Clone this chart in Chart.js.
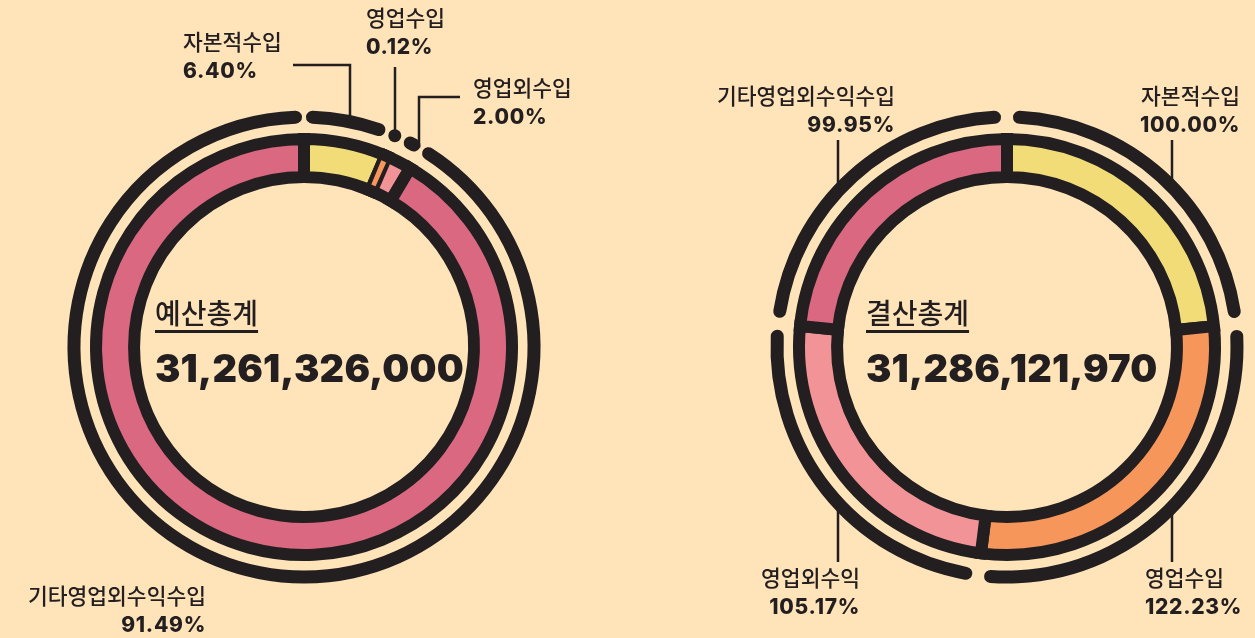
<!DOCTYPE html>
<html lang="ko">
<head>
<meta charset="utf-8">
<title>예산총계 · 결산총계</title>
<script src="https://cdn.jsdelivr.net/npm/chart.js@4"></script>
<style>
  html, body { margin: 0; padding: 0; background: #FFE3B9; }
  #page { position: relative; width: 1255px; height: 638px; overflow: hidden; }
  #page canvas { position: absolute; left: 0; top: 0; }
  .txt { position: absolute; line-height: 1; white-space: nowrap; color: #231F20; transform: translateY(-50%); }
  .txt.end { transform: translate(-100%, -50%); }
  .name { font-family: "Noto Sans CJK KR", sans-serif; font-size: 21.5px; font-weight: 500; }
  .pct { font-family: Inter, sans-serif; font-size: 21px; font-weight: 800; letter-spacing: 0.7px; }
  .title { font-family: "Noto Sans CJK KR", sans-serif; font-size: 28px; font-weight: 500;
           text-decoration: underline; text-decoration-thickness: 2.5px; text-underline-offset: 6px; }
  .total { font-family: Inter, sans-serif; font-size: 38px; font-weight: 900; letter-spacing: 0.2px; }
</style>
</head>
<body>
<div id="page">
  <canvas id="budgetChart" width="1255" height="638"></canvas>
  <canvas id="settleChart" width="1255" height="638"></canvas>
</div>
<script>
// 예산: 수입 구성비 (%)
const budgetNames = ['자본적수입', '영업수입', '영업외수입', '기타영업외수익수입'];
const budgetShares = [6.40, 0.12, 2.00, 91.49];
const budgetTotal = 31261326000;

// 결산: 항목별 집행률 (%)
const settleNames = ['자본적수입', '영업수입', '영업외수익', '기타영업외수익수입'];
const settleRates = [100.00, 122.23, 105.17, 99.95];
const settleTotal = 31286121970;

const sliceColors = ['#F2DC78', '#F7965A', '#F29497', '#DA6880'];
const ink = '#231F20';

// label placement: text anchor, and the leader path that drops onto the outer ring
const budgetLabels = [
  { x: 183, y: 41, align: 'start', leader: [[293, 65], [350, 65]] },
  { x: 366, y: 17, align: 'start', leader: [[395, 67]] },
  { x: 473, y: 87, align: 'start', leader: [[460, 97], [419, 97]] },
  { x: 206, y: 595, align: 'end', leader: null }
];
const settleLabels = [
  { x: 1240, y: 95, align: 'end', leader: [[1172, 140]] },
  { x: 1145, y: 577, align: 'start', leader: [[1172, 562]] },
  { x: 860, y: 577, align: 'end', leader: [[838, 562]] },
  { x: 895, y: 95, align: 'end', leader: [[838, 140]] }
];

const page = document.getElementById('page');

// outer segmented ring, hairline slices and leader lines
const outerRing = {
  id: 'outerRing',
  afterDatasetsDraw(chart, args, opts) {
    const arcs = chart.getDatasetMeta(0).data;
    const ctx = chart.ctx;
    const { x: cx, y: cy, innerRadius, outerRadius } = arcs[0];
    const half = arcs[0].options.borderWidth / 2;
    const R = opts.radius, cap = opts.width / 2, gap = opts.gap;
    const top = -Math.PI / 2;
    const n = arcs.length;

    ctx.save();

    // slices thinner than the borders still get a visible stripe
    const mid = (innerRadius + outerRadius) / 2;
    arcs.forEach(a => {
      if ((a.endAngle - a.startAngle) * mid >= opts.minSlice) return;
      const m = (a.startAngle + a.endAngle) / 2, h = opts.minSlice / 2 / mid;
      ctx.beginPath();
      ctx.arc(cx, cy, outerRadius - half, m - h, m + h);
      ctx.arc(cx, cy, innerRadius + half, m + h, m - h, true);
      ctx.closePath();
      ctx.fillStyle = a.options.backgroundColor;
      ctx.fill();
    });

    // spans along the outer circle, in px measured from the top
    const marks = arcs.map(a => {
      const s = (a.startAngle - top) * R, e = (a.endAngle - top) * R;
      if (e - s < 2 * cap + gap) {
        const m = (s + e) / 2;
        return { s: m - cap, e: m + cap, dot: true };
      }
      return { s: s + gap / 2, e: e - gap / 2, dot: false };
    });
    marks.forEach((mk, i) => {
      if (!mk.dot) return;
      const prev = marks[(i + n - 1) % n], next = marks[(i + 1) % n];
      prev.e = Math.min(prev.e, mk.s - gap);
      next.s = Math.max(next.s, mk.e + gap);
    });

    ctx.strokeStyle = ink;
    ctx.fillStyle = ink;
    ctx.lineWidth = opts.width;
    ctx.lineCap = 'round';
    marks.forEach(mk => {
      ctx.beginPath();
      if (mk.dot || mk.e - mk.s <= 2 * cap) {
        const ang = (mk.s + mk.e) / 2 / R + top;
        ctx.arc(cx + R * Math.cos(ang), cy + R * Math.sin(ang), cap, 0, Math.PI * 2);
        ctx.fill();
      } else {
        ctx.arc(cx, cy, R, (mk.s + cap) / R + top, (mk.e - cap) / R + top);
        ctx.stroke();
      }
    });

    // leader lines end where they meet the outer ring
    ctx.lineWidth = 2.5;
    ctx.lineCap = 'butt';
    opts.labels.forEach(l => {
      if (!l.leader) return;
      const pts = l.leader;
      const [lx, ly] = pts[pts.length - 1];
      const dy = Math.sqrt(R * R - (lx - cx) * (lx - cx));
      ctx.beginPath();
      ctx.moveTo(pts[0][0], pts[0][1]);
      pts.slice(1).forEach(p => ctx.lineTo(p[0], p[1]));
      ctx.lineTo(lx, ly < cy ? cy - dy : cy + dy);
      ctx.stroke();
    });

    ctx.restore();
  }
};

function addText(cls, str, x, y, align) {
  const el = document.createElement('div');
  el.className = 'txt ' + cls + (align === 'end' ? ' end' : '');
  el.textContent = str;
  el.style.left = x + 'px';
  el.style.top = y + 'px';
  page.appendChild(el);
}

function makeRing(id, names, values, labels, padding, gap) {
  return new Chart(document.getElementById(id), {
    type: 'doughnut',
    data: {
      labels: names,
      datasets: [{
        data: values,
        backgroundColor: sliceColors,
        borderColor: ink,
        borderWidth: 12,
        borderJoinStyle: 'miter'
      }]
    },
    options: {
      responsive: false,
      animation: false,
      events: [],
      radius: 208,
      cutout: '81.7%',
      layout: { padding },
      plugins: {
        legend: { display: false },
        tooltip: { enabled: false },
        outerRing: { radius: 230, width: 13, gap, minSlice: 5, labels }
      }
    },
    plugins: [outerRing]
  });
}

makeRing('budgetChart', budgetNames, budgetShares, budgetLabels,
  { left: 0, right: 647, top: 56, bottom: 0 }, 4);
makeRing('settleChart', settleNames, settleRates, settleLabels,
  { left: 759, right: 0, top: 56, bottom: 0 }, 12);

budgetLabels.forEach((l, i) => {
  addText('name', budgetNames[i], l.x, l.y, l.align);
  addText('pct', budgetShares[i].toFixed(2) + '%', l.x, l.y + 29, l.align);
});
settleLabels.forEach((l, i) => {
  addText('name', settleNames[i], l.x, l.y, l.align);
  addText('pct', settleRates[i].toFixed(2) + '%', l.x, l.y + 29, l.align);
});

addText('title', '예산총계', 155, 312, 'start');
addText('total', budgetTotal.toLocaleString('en-US'), 155, 368, 'start');
addText('title', '결산총계', 866, 312, 'start');
addText('total', settleTotal.toLocaleString('en-US'), 866, 368, 'start');
</script>
</body>
</html>
